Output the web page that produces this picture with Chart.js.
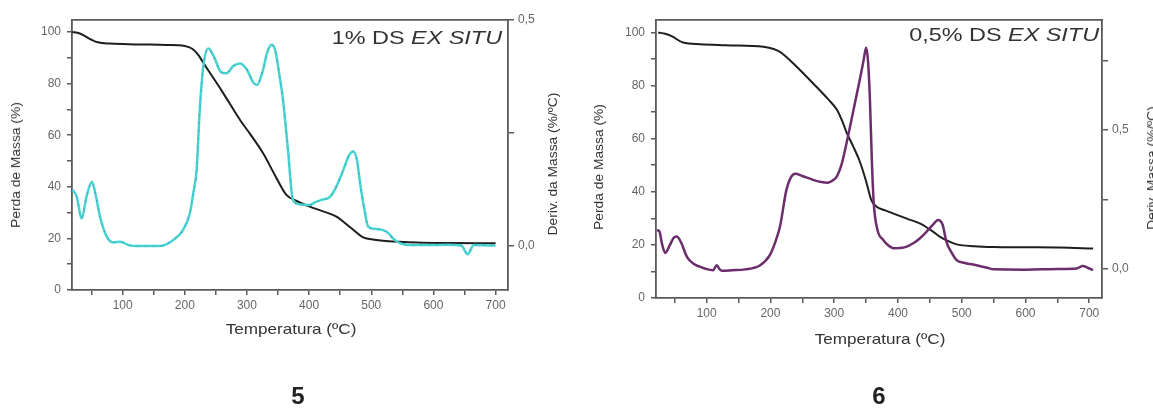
<!DOCTYPE html>
<html>
<head>
<meta charset="utf-8">
<script src="https://cdn.jsdelivr.net/npm/chart.js@4.4.1/dist/chart.umd.min.js"></script>
<style>
body{margin:0;background:#fff;width:1153px;height:412px;overflow:hidden;position:relative;font-family:"Liberation Sans",Arial,sans-serif;}
canvas{position:absolute;top:0;}
.lbl{position:absolute;white-space:nowrap;color:#333;line-height:1;}
.rot{transform:translate(-50%,-50%) rotate(-90deg) scaleX(1.15);font-size:12px;}
.xt{transform:translate(-50%,-50%) scaleX(1.14);font-size:15px;}
.tt{transform:translateY(-50%) scaleX(1.3);transform-origin:right center;font-size:18px;}
.num{transform:translate(-50%,-50%);font-size:24px;font-weight:bold;color:#222;}
</style>
</head>
<body>
<canvas id="chart5" width="566" height="350" style="left:0px"></canvas>
<canvas id="chart6" width="573" height="350" style="left:580px"></canvas>

<div class="lbl tt" style="right:651px;top:38px">1% DS <i>EX SITU</i></div>
<div class="lbl tt" style="right:54px;top:35px">0,5% DS <i>EX SITU</i></div>
<div class="lbl rot" style="left:16px;top:165px">Perda de Massa (%)</div>
<div class="lbl rot" style="left:553px;top:164px">Deriv. da Massa (%/ºC)</div>
<div class="lbl rot" style="left:599px;top:167px">Perda de Massa (%)</div>
<div class="lbl rot" style="left:1152px;top:168px">Deriv. Massa (%/ºC)</div>
<div class="lbl xt" style="left:291px;top:328px">Temperatura (ºC)</div>
<div class="lbl xt" style="left:880px;top:338px">Temperatura (ºC)</div>
<div class="lbl num" style="left:298px;top:396px">5</div>
<div class="lbl num" style="left:879px;top:396px">6</div>

<script>
// sample 5 - 1% DS ex situ
const temp5Mass = [19, 30, 40, 50, 60, 80, 120, 170, 200, 212, 222, 230, 260, 290, 305, 326, 345, 363, 380, 401, 425, 444, 465, 487, 505, 519, 545, 573, 620, 700];
const mass5 = [100, 99.5, 98.3, 97, 96, 95.5, 95.2, 95, 94.6, 93.5, 91, 88, 77, 65.5, 60.5, 53, 44.5, 37, 34.5, 32.3, 30.3, 28.4, 24.5, 20.4, 19.5, 19.1, 18.7, 18.4, 18.2, 18.1];
const temp5Deriv = [19, 26, 34, 42, 50.5, 57, 63.5, 74, 85, 96, 110, 128, 160, 181, 197, 208, 214, 219, 224, 230, 238, 248, 258, 267, 278, 289, 300, 310, 316, 325, 333, 340, 346, 352, 358, 366, 374, 385, 401, 410, 420, 434, 445, 455, 464, 471, 477, 482, 489, 495, 505, 519, 528, 535, 551, 580, 620, 645, 655, 665, 700];
const deriv5 = [0.124, 0.11, 0.061, 0.11, 0.142, 0.11, 0.065, 0.022, 0.008, 0.0095, 0.002, 0, 0, 0.013, 0.035, 0.072, 0.12, 0.168, 0.3, 0.4, 0.437, 0.415, 0.385, 0.382, 0.398, 0.404, 0.39, 0.362, 0.356, 0.385, 0.43, 0.445, 0.43, 0.38, 0.323, 0.212, 0.102, 0.092, 0.091, 0.097, 0.102, 0.109, 0.135, 0.168, 0.2, 0.209, 0.19, 0.139, 0.08, 0.043, 0.038, 0.035, 0.028, 0.017, 0.004, 0.002, 0.003, 0.001, -0.018, 0.002, 0.001];

// sample 6 - 0,5% DS ex situ
const temp6Mass = [24, 35, 45, 63, 90, 130, 189, 205, 215, 225, 236, 267, 290, 304, 312, 320, 330, 340, 350, 358, 366, 380, 393, 415, 435, 455, 466, 480, 492, 520, 550, 600, 654, 706];
const mass6 = [100, 99.5, 98.6, 96.2, 95.6, 95.2, 94.6, 93.8, 92.7, 90.8, 88.3, 80.8, 75, 71, 67, 62, 57, 51.5, 44, 37, 34.5, 33, 31.8, 29.8, 28, 25, 23, 21.3, 20.2, 19.5, 19.2, 19.1, 19, 18.6];
const temp6Deriv = [22, 26, 30, 35, 42, 48, 53, 60, 69, 80, 90, 100, 110, 115.7, 120, 124, 140, 160, 184, 199, 208, 215, 225, 232, 239, 250, 267, 280, 290, 297, 304, 312, 320, 330, 340, 346, 350, 353, 356, 359, 362, 368, 377, 385, 393, 410, 424, 435, 445, 455, 463, 470, 476, 484, 492, 505, 523, 540, 550, 600, 650, 680, 690, 698, 706];
const deriv6 = [0.14, 0.135, 0.09, 0.058, 0.085, 0.112, 0.117, 0.095, 0.044, 0.018, 0.008, 0.0, -0.004, 0.014, 0.0, -0.006, -0.004, -0.001, 0.014, 0.05, 0.1, 0.153, 0.285, 0.33, 0.343, 0.335, 0.321, 0.313, 0.311, 0.318, 0.333, 0.38, 0.46, 0.57, 0.68, 0.75, 0.796, 0.75, 0.61, 0.393, 0.237, 0.14, 0.105, 0.085, 0.075, 0.078, 0.093, 0.112, 0.135, 0.16, 0.177, 0.16, 0.098, 0.06, 0.032, 0.022, 0.014, 0.005, -0.001, -0.002, 0.0, 0.002, 0.011, 0.004, -0.004];

// axis ticks
const tempTicks = [50, 100, 150, 200, 250, 300, 350, 400, 450, 500, 550, 600, 650, 700];
const massTicks = [0, 10, 20, 30, 40, 50, 60, 70, 80, 90, 100];
const derivTicks5 = [0, 0.25, 0.5];
const derivTicks6 = [0, 0.25, 0.5, 0.75];

const axisColor = '#5a5a5a';
const tickFont = { family: 'Liberation Sans', size: 12 };

function toPoints(xs, ys) {
    return xs.map((x, i) => ({ x: x, y: ys[i] }));
}

function derivLabel(v) {
    if (v === 0) return '0,0';
    if (v === 0.5) return '0,5';
    return '';
}

function makeChart(id, o) {
    const ctx = document.getElementById(id).getContext('2d');
    const sets = [
        {
            data: toPoints(o.derivT, o.deriv),
            yAxisID: 'y2',
            borderColor: o.derivColor,
            borderWidth: 2.5,
            pointRadius: 0,
            cubicInterpolationMode: 'monotone'
        },
        {
            data: toPoints(o.massT, o.mass),
            yAxisID: 'y',
            borderColor: '#1e1e1e',
            borderWidth: 2,
            pointRadius: 0,
            cubicInterpolationMode: 'monotone'
        }
    ];
    // speckled overlay seen on the cyan trace (overlapping curves in the original)
    if (o.speckle) {
        sets.unshift({
            data: toPoints(o.derivT, o.deriv),
            yAxisID: 'y2',
            borderColor: 'rgba(90,90,230,0.55)',
            borderWidth: 1.5,
            borderDash: [1, 7],
            pointRadius: 0,
            cubicInterpolationMode: 'monotone'
        });
    }
    return new Chart(ctx, {
        type: 'line',
        data: { datasets: sets },
        options: {
            responsive: false,
            animation: false,
            devicePixelRatio: 1,
            layout: { padding: { top: 20, left: 0, right: 0, bottom: 0 } },
            plugins: { legend: { display: false }, tooltip: { enabled: false } },
            scales: {
                x: {
                    type: 'linear',
                    position: 'bottom',
                    min: o.xMin, max: o.xMax,
                    afterBuildTicks: s => { s.ticks = tempTicks.map(v => ({ value: v })); },
                    ticks: { callback: v => (v % 100 === 0 ? v : ''), color: '#666', font: tickFont, padding: 3, maxRotation: 0, autoSkip: false },
                    grid: { drawOnChartArea: false, color: axisColor, tickLength: 5, lineWidth: 1.5 },
                    border: { color: axisColor, width: 1.8 },
                    afterFit: s => { s.height = o.xH; }
                },
                xTop: {
                    type: 'linear',
                    position: 'top',
                    min: o.xMin, max: o.xMax,
                    ticks: { display: false },
                    grid: { drawOnChartArea: false, drawTicks: false },
                    border: { color: axisColor, width: 1.8 },
                    afterFit: s => { s.height = 0; }
                },
                y: {
                    position: 'left',
                    min: 0, max: o.yMax,
                    afterBuildTicks: s => { s.ticks = massTicks.map(v => ({ value: v })); },
                    ticks: { callback: v => (v % 20 === 0 ? v : ''), color: '#666', font: tickFont, padding: 6, autoSkip: false },
                    grid: { drawOnChartArea: false, color: axisColor, tickLength: 5, lineWidth: 1.5 },
                    border: { color: axisColor, width: 1.8 },
                    afterFit: s => { s.width = o.yW; }
                },
                y2: {
                    position: 'right',
                    min: o.dMin, max: o.dMax,
                    afterBuildTicks: s => { s.ticks = o.dTicks.map(v => ({ value: v })); },
                    ticks: { callback: derivLabel, color: '#666', font: tickFont, padding: 4, autoSkip: false },
                    grid: { drawOnChartArea: false, color: axisColor, tickLength: 6, lineWidth: 1.5 },
                    border: { color: axisColor, width: 1.8 },
                    afterFit: s => { s.width = o.y2W; }
                }
            }
        }
    });
}

makeChart('chart5', {
    massT: temp5Mass, mass: mass5, derivT: temp5Deriv, deriv: deriv5,
    derivColor: '#46d4cf', speckle: true,
    xMin: 18.5, xMax: 720, xH: 60,
    yMax: 104.65, yW: 72, y2W: 58,
    dMin: -0.0973, dMax: 0.5, dTicks: derivTicks5
});

makeChart('chart6', {
    massT: temp6Mass, mass: mass6, derivT: temp6Deriv, deriv: deriv6,
    derivColor: '#6b2d6b', speckle: false,
    xMin: 20.5, xMax: 720, xH: 52,
    yMax: 104.7, yW: 76, y2W: 51,
    dMin: -0.104, dMax: 0.896, dTicks: derivTicks6
});
</script>
</body>
</html>
